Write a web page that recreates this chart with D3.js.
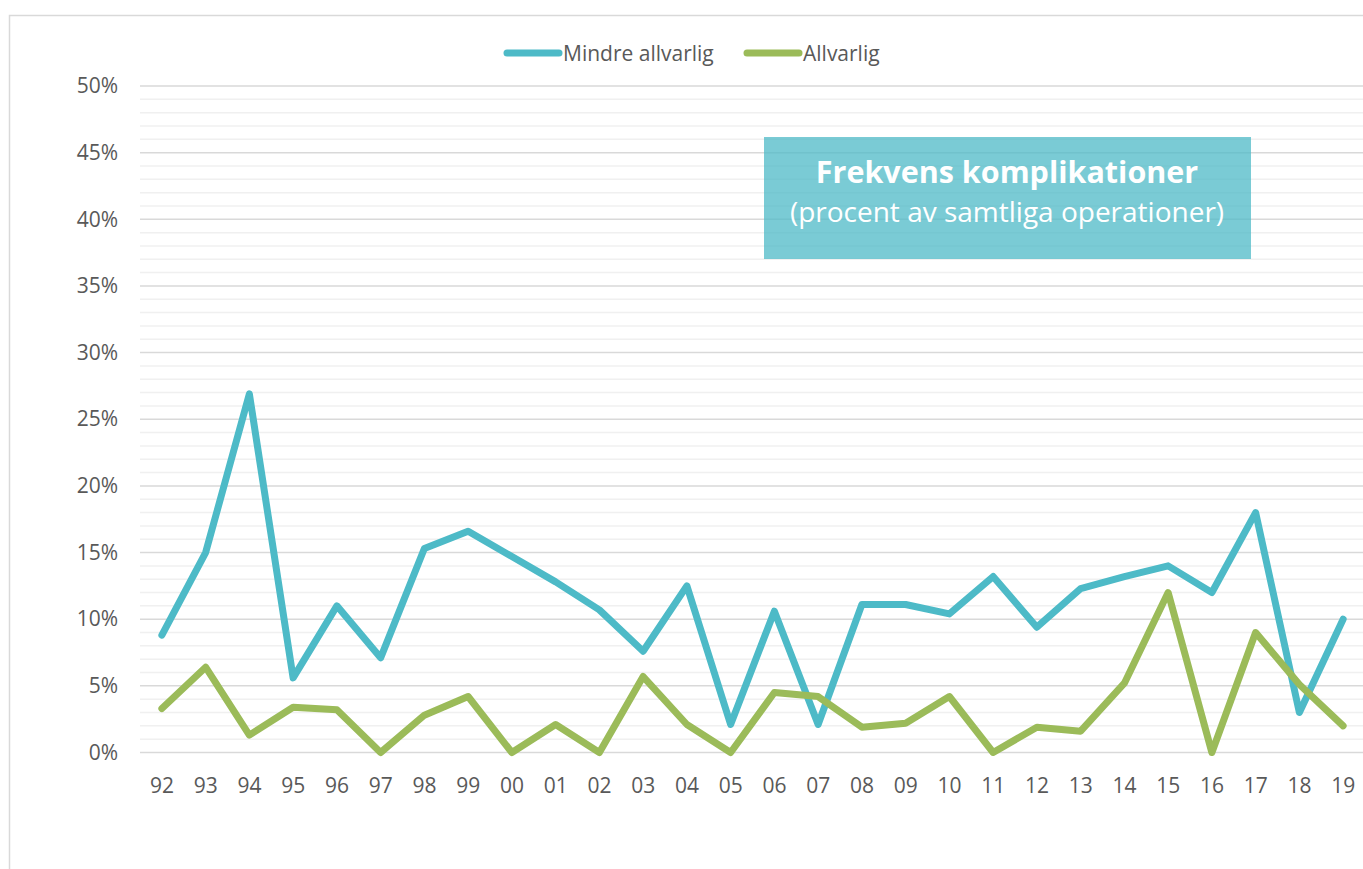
<!DOCTYPE html>
<html><head><meta charset="utf-8">
<script src="https://cdn.jsdelivr.net/npm/d3@7"></script>
<style>body{margin:0;background:#fff;}svg{display:block;font-family:"Open Sans",sans-serif;}</style>
</head><body>
<svg id="c" width="1363" height="869"></svg>
<script>
const years = ["92","93","94","95","96","97","98","99","00","01","02","03","04","05","06","07","08","09","10","11","12","13","14","15","16","17","18","19"];
const mindre = [8.8,15.0,26.9,5.6,11.0,7.1,15.3,16.6,14.7,12.8,10.7,7.6,12.5,2.1,10.6,2.1,11.1,11.1,10.4,13.2,9.4,12.3,13.2,14.0,12.0,18.0,3.0,10.0];
const allvarlig = [3.3,6.4,1.3,3.4,3.2,0.0,2.8,4.2,0.0,2.1,0.0,5.7,2.1,0.0,4.5,4.2,1.9,2.2,4.2,0.0,1.9,1.6,5.2,12.0,0.0,9.0,5.1,2.0];
const seriesNames = ["Mindre allvarlig","Allvarlig"];
const yTicks = [0,5,10,15,20,25,30,35,40,45,50];
const colors = ["#4DBAC7","#9BBB59"];

const svg = d3.select("#c");
svg.append("rect").attr("x",9.5).attr("y",15.5).attr("width",1400).attr("height",900)
  .attr("fill","none").attr("stroke","#D9D9D9").attr("stroke-width",1.5);

const x = d3.scaleBand().domain(years).range([140,1365]);
const y = d3.scaleLinear().domain([0,50]).range([752.5,86]);

const g = svg.append("g");
g.selectAll("line.minor").data(d3.range(0,51).filter(v=>v%5!==0)).join("line")
  .attr("x1",140).attr("x2",1363).attr("y1",d=>y(d)).attr("y2",d=>y(d))
  .attr("stroke","#F0F0F0").attr("stroke-width",1.5);
g.selectAll("line.major").data(yTicks).join("line")
  .attr("x1",140).attr("x2",1363).attr("y1",d=>y(d)).attr("y2",d=>y(d))
  .attr("stroke","#D9D9D9").attr("stroke-width",1.5);

const ya = svg.append("g").attr("transform","translate(140,0)")
  .call(d3.axisLeft(y).tickValues(yTicks).tickFormat(d=>d+"%").tickSize(0).tickPadding(22));
ya.select(".domain").remove();
ya.selectAll("text").attr("font-size",21).attr("fill","#595959").attr("font-family","'Open Sans',sans-serif");

const xa = svg.append("g").attr("transform","translate(0,752.5)")
  .call(d3.axisBottom(x).tickSize(0));
xa.select(".domain").remove();
xa.selectAll("text").attr("y",40).attr("dy",null).attr("font-size",21).attr("fill","#595959")
  .attr("font-family","'Open Sans',sans-serif");

svg.append("rect").attr("x",764).attr("y",137).attr("width",487).attr("height",122)
  .attr("fill","#4DBAC7").attr("fill-opacity",0.75);
svg.append("text").attr("x",1007).attr("y",183).attr("text-anchor","middle")
  .attr("fill","#fff").attr("font-size",30.5).attr("font-weight","bold")
  .attr("font-family","'Open Sans',sans-serif").text("Frekvens komplikationer");
svg.append("text").attr("x",1007).attr("y",222).attr("text-anchor","middle")
  .attr("fill","#fff").attr("font-size",28)
  .attr("font-family","'Open Sans',sans-serif").text("(procent av samtliga operationer)");

const line = d3.line().x((d,i)=>x(years[i])+x.bandwidth()/2).y(d=>y(d));
[mindre, allvarlig].forEach((s,k)=>{
  svg.append("path").datum(s).attr("d",line).attr("fill","none")
    .attr("stroke",colors[k]).attr("stroke-width",7)
    .attr("stroke-linejoin","round").attr("stroke-linecap","round");
});

const legX = [507,747];
seriesNames.forEach((n,k)=>{
  svg.append("line").attr("x1",legX[k]).attr("x2",legX[k]+52).attr("y1",53).attr("y2",53)
    .attr("stroke",colors[k]).attr("stroke-width",7).attr("stroke-linecap","round");
  svg.append("text").attr("x",legX[k]+56).attr("y",60.5).attr("font-size",21)
    .attr("fill","#595959").attr("font-family","'Open Sans',sans-serif").text(n);
});
</script>
</body></html>
